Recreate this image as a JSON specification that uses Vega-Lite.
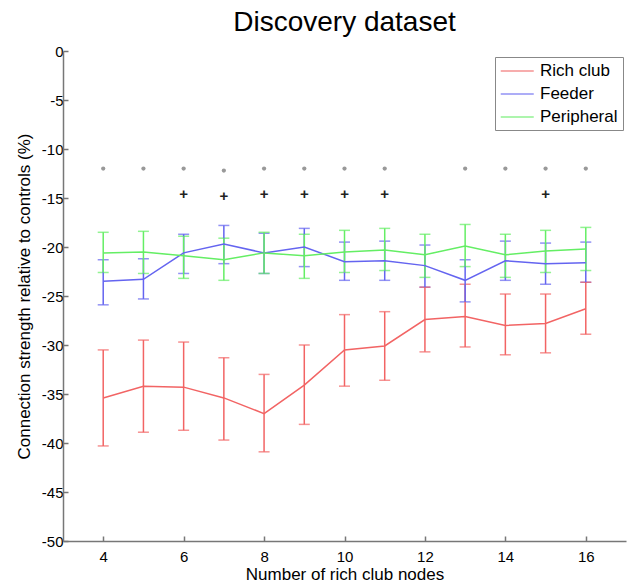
{
  "$schema": "https://vega.github.io/schema/vega-lite/v6.json",
  "width": 563,
  "height": 490,
  "autosize": "none",
  "padding": {"left": 63, "top": 51, "right": 1, "bottom": 45},
  "background": "white",
  "config": {
    "font": "Liberation Sans",
    "view": {"stroke": null}
  },
  "title": {"text": "Discovery dataset", "fontSize": 28, "fontWeight": "normal", "baseline": "alphabetic", "offset": -15, "anchor": "middle", "color": "black"},
  "datasets": {
    "series": [
      {"n": 4, "series": "Rich club", "mean": -35.4, "lo": -40.3, "hi": -30.5},
      {"n": 5, "series": "Rich club", "mean": -34.2, "lo": -38.9, "hi": -29.5},
      {"n": 6, "series": "Rich club", "mean": -34.3, "lo": -38.7, "hi": -29.7},
      {"n": 7, "series": "Rich club", "mean": -35.4, "lo": -39.7, "hi": -31.3},
      {"n": 8, "series": "Rich club", "mean": -37.0, "lo": -40.9, "hi": -33.0},
      {"n": 9, "series": "Rich club", "mean": -34.1, "lo": -38.1, "hi": -30.0},
      {"n": 10, "series": "Rich club", "mean": -30.5, "lo": -34.2, "hi": -26.9},
      {"n": 11, "series": "Rich club", "mean": -30.1, "lo": -33.6, "hi": -26.6},
      {"n": 12, "series": "Rich club", "mean": -27.4, "lo": -30.7, "hi": -24.1},
      {"n": 13, "series": "Rich club", "mean": -27.1, "lo": -30.2, "hi": -23.8},
      {"n": 14, "series": "Rich club", "mean": -28.0, "lo": -31.0, "hi": -24.8},
      {"n": 15, "series": "Rich club", "mean": -27.8, "lo": -30.8, "hi": -24.8},
      {"n": 16, "series": "Rich club", "mean": -26.3, "lo": -28.9, "hi": -23.6},
      {"n": 4, "series": "Feeder", "mean": -23.5, "lo": -25.9, "hi": -21.3},
      {"n": 5, "series": "Feeder", "mean": -23.3, "lo": -25.3, "hi": -21.2},
      {"n": 6, "series": "Feeder", "mean": -20.6, "lo": -22.7, "hi": -18.7},
      {"n": 7, "series": "Feeder", "mean": -19.7, "lo": -21.7, "hi": -17.8},
      {"n": 8, "series": "Feeder", "mean": -20.6, "lo": -22.7, "hi": -18.6},
      {"n": 9, "series": "Feeder", "mean": -20.0, "lo": -22.0, "hi": -18.1},
      {"n": 10, "series": "Feeder", "mean": -21.5, "lo": -23.4, "hi": -19.5},
      {"n": 11, "series": "Feeder", "mean": -21.4, "lo": -23.4, "hi": -19.4},
      {"n": 12, "series": "Feeder", "mean": -21.9, "lo": -24.1, "hi": -19.8},
      {"n": 13, "series": "Feeder", "mean": -23.4, "lo": -25.6, "hi": -21.3},
      {"n": 14, "series": "Feeder", "mean": -21.4, "lo": -23.4, "hi": -19.4},
      {"n": 15, "series": "Feeder", "mean": -21.7, "lo": -23.8, "hi": -19.6},
      {"n": 16, "series": "Feeder", "mean": -21.6, "lo": -23.6, "hi": -19.5},
      {"n": 4, "series": "Peripheral", "mean": -20.6, "lo": -22.6, "hi": -18.5},
      {"n": 5, "series": "Peripheral", "mean": -20.5, "lo": -22.7, "hi": -18.4},
      {"n": 6, "series": "Peripheral", "mean": -20.9, "lo": -23.2, "hi": -18.9},
      {"n": 7, "series": "Peripheral", "mean": -21.3, "lo": -23.4, "hi": -19.1},
      {"n": 8, "series": "Peripheral", "mean": -20.6, "lo": -22.7, "hi": -18.5},
      {"n": 9, "series": "Peripheral", "mean": -20.9, "lo": -23.2, "hi": -18.7},
      {"n": 10, "series": "Peripheral", "mean": -20.5, "lo": -22.6, "hi": -18.3},
      {"n": 11, "series": "Peripheral", "mean": -20.3, "lo": -22.4, "hi": -18.1},
      {"n": 12, "series": "Peripheral", "mean": -20.8, "lo": -23.1, "hi": -18.7},
      {"n": 13, "series": "Peripheral", "mean": -19.9, "lo": -22.0, "hi": -17.7},
      {"n": 14, "series": "Peripheral", "mean": -20.8, "lo": -23.1, "hi": -18.7},
      {"n": 15, "series": "Peripheral", "mean": -20.4, "lo": -22.6, "hi": -18.3},
      {"n": 16, "series": "Peripheral", "mean": -20.2, "lo": -22.4, "hi": -18.0}
    ],
    "dots": [
      {"n": 4, "y": -12.0}, {"n": 5, "y": -12.0}, {"n": 6, "y": -12.0}, {"n": 7, "y": -12.2},
      {"n": 8, "y": -12.0}, {"n": 9, "y": -12.0}, {"n": 10, "y": -12.0}, {"n": 11, "y": -12.0},
      {"n": 13, "y": -12.0}, {"n": 14, "y": -12.0}, {"n": 15, "y": -12.0}, {"n": 16, "y": -12.0}
    ],
    "plus": [
      {"n": 6, "y": -14.6}, {"n": 7, "y": -14.8}, {"n": 8, "y": -14.6}, {"n": 9, "y": -14.6},
      {"n": 10, "y": -14.6}, {"n": 11, "y": -14.6}, {"n": 15, "y": -14.6}
    ]
  },
  "layer": [
    {
      "data": {"name": "series"},
      "mark": {"type": "errorbar", "ticks": {"size": 11, "thickness": 1.5}, "thickness": 1.5},
      "encoding": {
        "x": {"field": "n", "type": "quantitative",
          "scale": {"domain": [3, 17], "nice": false, "zero": false},
          "axis": {"values": [4, 6, 8, 10, 12, 14, 16], "title": "Number of rich club nodes", "grid": false,
            "tickSize": -5, "labelPadding": 13, "domainColor": "#777", "tickColor": "#777", "domainWidth": 1.5, "tickWidth": 1.5,
            "labelFontSize": 15, "titleFontSize": 17, "titleFontWeight": "normal", "labelColor": "black", "titleColor": "black", "titlePadding": 2}},
        "y": {"field": "lo", "type": "quantitative",
          "scale": {"domain": [-50, 0], "nice": false, "zero": false},
          "axis": {"values": [0, -5, -10, -15, -20, -25, -30, -35, -40, -45, -50], "title": "Connection strength relative to controls (%)", "grid": false,
            "labelExpr": "(datum.value < 0 ? '-' : '') + abs(datum.value)",
            "tickSize": -5, "labelPadding": 5, "domainColor": "#777", "tickColor": "#777", "domainWidth": 1.5, "tickWidth": 1.5,
            "labelFontSize": 15, "titleFontSize": 17, "titleFontWeight": "normal", "labelColor": "black", "titleColor": "black", "titlePadding": 8}},
        "y2": {"field": "hi"},
        "color": {"field": "series", "type": "nominal",
          "scale": {"domain": ["Rich club", "Feeder", "Peripheral"], "range": ["#f26464", "#6464f0", "#64ee64"]},
          "legend": {"orient": "none", "legendX": 432, "legendY": 6, "title": null, "strokeColor": "#888", "fillColor": "white",
            "padding": 5, "symbolType": "M-1,0H3", "symbolSize": 272, "symbolStrokeWidth": 1.5,
            "labelFontSize": 17, "labelColor": "black", "rowPadding": 6, "labelOffset": 22}}
      }
    },
    {
      "data": {"name": "series"},
      "mark": {"type": "line", "strokeWidth": 1.5},
      "encoding": {
        "x": {"field": "n", "type": "quantitative"},
        "y": {"field": "mean", "type": "quantitative"},
        "color": {"field": "series", "type": "nominal",
          "legend": {"orient": "none", "legendX": 432, "legendY": 6, "title": null, "strokeColor": "#888", "fillColor": "white",
            "padding": 5, "symbolType": "M-1,0H3", "symbolSize": 272, "symbolStrokeWidth": 1.5,
            "labelFontSize": 17, "labelColor": "black", "rowPadding": 6, "labelOffset": 22}}
      }
    },
    {
      "data": {"name": "dots"},
      "mark": {"type": "point", "shape": "circle", "filled": true, "size": 18, "color": "#999999", "opacity": 1},
      "encoding": {
        "x": {"field": "n", "type": "quantitative"},
        "y": {"field": "y", "type": "quantitative"}
      }
    },
    {
      "data": {"name": "plus"},
      "mark": {"type": "text", "text": "+", "fontSize": 15, "fontWeight": "bold", "color": "#222222", "baseline": "middle", "align": "center"},
      "encoding": {
        "x": {"field": "n", "type": "quantitative"},
        "y": {"field": "y", "type": "quantitative"}
      }
    }
  ]
}
